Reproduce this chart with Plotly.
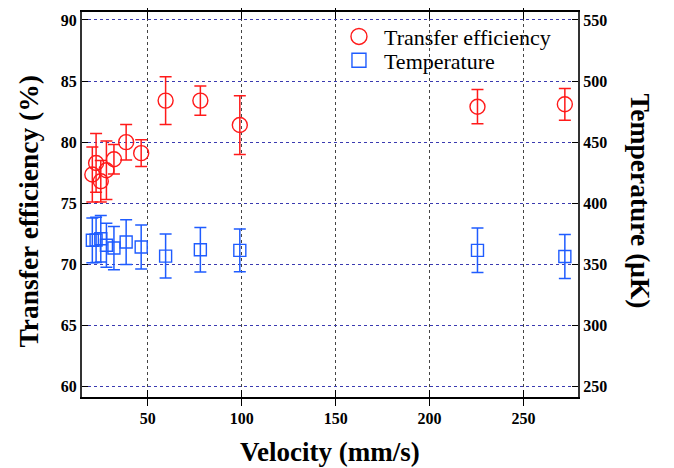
import plotly.graph_objects as go

velocity = [20.5, 22.5, 25, 28, 32, 38.5, 46.5, 59.5, 78, 99, 225.5, 272]
efficiency = [77.35, 78.3, 76.8, 77.7, 78.6, 80.0, 79.1, 83.4, 83.4, 81.4, 82.9, 83.1]
efficiency_err = [2.25, 2.4, 1.7, 2.4, 1.2, 1.45, 1.1, 1.95, 1.2, 2.4, 1.4, 1.3]
temperature = [369.7, 370.0, 371.0, 365.6, 363.4, 368.3, 364.2, 356.8, 362.0, 361.5, 361.5, 356.5]
temperature_err = [18.3, 18.5, 19.0, 18.0, 17.7, 18.3, 18.0, 18.0, 18.2, 17.5, 18.2, 18.0]

x_ticks = [50, 100, 150, 200, 250]
y_ticks = [60, 65, 70, 75, 80, 85, 90]
y2_ticks = [250, 300, 350, 400, 450, 500, 550]

RED = "#ff1a1a"
BLUE = "#1f5cff"
FONT = "Liberation Serif"

fig = go.Figure()
fig.add_trace(go.Scatter(
    x=velocity, y=efficiency, mode="markers", name="Transfer efficiency",
    marker=dict(symbol="circle-open", size=15, color=RED, line=dict(width=1.4, color=RED)),
    error_y=dict(type="data", array=efficiency_err, color=RED, thickness=1.5, width=6),
    yaxis="y", showlegend=False,
))
fig.add_trace(go.Scatter(
    x=velocity, y=temperature, mode="markers", name="Temperature",
    marker=dict(symbol="square-open", size=12, color=BLUE, line=dict(width=1.4, color=BLUE)),
    error_y=dict(type="data", array=temperature_err, color=BLUE, thickness=1.5, width=6),
    yaxis="y2", showlegend=False,
))
# legend entries
fig.add_trace(go.Scatter(
    x=[None], y=[None], mode="markers", name="Transfer efficiency",
    marker=dict(symbol="circle-open", size=16, color=RED, line=dict(width=1.4, color=RED)),
    legend="legend",
))
fig.add_trace(go.Scatter(
    x=[None], y=[None], mode="markers", name="Temperature",
    marker=dict(symbol="square-open", size=14, color=BLUE, line=dict(width=1.4, color=BLUE)),
    yaxis="y2", legend="legend2",
))

tickfont = dict(family=FONT, size=16, color="black", weight="bold")
legfont = dict(family=FONT, size=22, color="black")
titlefont = dict(family=FONT, size=27.5, color="black", weight="bold")

fig.update_layout(
    width=666, height=460,
    margin=dict(l=74, r=96, t=2, b=71),
    paper_bgcolor="white", plot_bgcolor="white",
    font=dict(family=FONT, color="black"),
    xaxis=dict(
        range=[15, 279], tickvals=x_ticks, ticktext=[str(v) for v in x_ticks],
        tickfont=tickfont, ticks="inside", ticklen=7, tickwidth=1, tickcolor="black",
        ticklabelstandoff=6,
        showline=True, linecolor="black", linewidth=2, mirror="allticks",
        showgrid=True, gridcolor="#444444", griddash="dot", gridwidth=1,
        zeroline=False,
    ),
    yaxis=dict(
        range=[59.15, 90.65], tickvals=y_ticks, ticktext=[str(v) for v in y_ticks],
        tickfont=tickfont, ticks="inside", ticklen=6, tickwidth=1, tickcolor="black",
        showline=True, linecolor="#333333", linewidth=2, mirror=True,
        showgrid=True, gridcolor="#3a3ab0", griddash="dot", gridwidth=1,
        zeroline=False,
    ),
    yaxis2=dict(
        range=[241.5, 556.5], tickvals=y2_ticks, ticktext=[str(v) for v in y2_ticks],
        tickfont=tickfont, ticks="inside", ticklen=6, tickwidth=1, tickcolor="black",
        overlaying="y", side="right", showgrid=False, zeroline=False,
        showline=True, linecolor="#333333", linewidth=2,
    ),
    legend=dict(
        x=0.508, y=0.936, xanchor="left", yanchor="middle",
        bgcolor="rgba(0,0,0,0)", font=legfont, itemwidth=40,
    ),
    legend2=dict(
        x=0.508, y=0.874, xanchor="left", yanchor="middle",
        bgcolor="rgba(0,0,0,0)", font=legfont, itemwidth=40,
    ),
    annotations=[
        dict(text="Transfer efficiency (%)", xref="paper", yref="paper", x=0, y=0.5,
             xshift=-54, yshift=-7, textangle=-90, showarrow=False,
             xanchor="center", yanchor="middle", font=titlefont),
        dict(text="Temperature (μK)", xref="paper", yref="paper", x=1, y=0.5,
             xshift=62, yshift=4, textangle=90, showarrow=False,
             xanchor="center", yanchor="middle", font=titlefont),
        dict(text="Velocity (mm/s)", xref="paper", yref="paper", x=0.5, y=0,
             yshift=-55, showarrow=False, xanchor="center", yanchor="middle",
             font=dict(family=FONT, size=27, color="black", weight="bold")),
    ],
)

fig.write_html("out.html")
